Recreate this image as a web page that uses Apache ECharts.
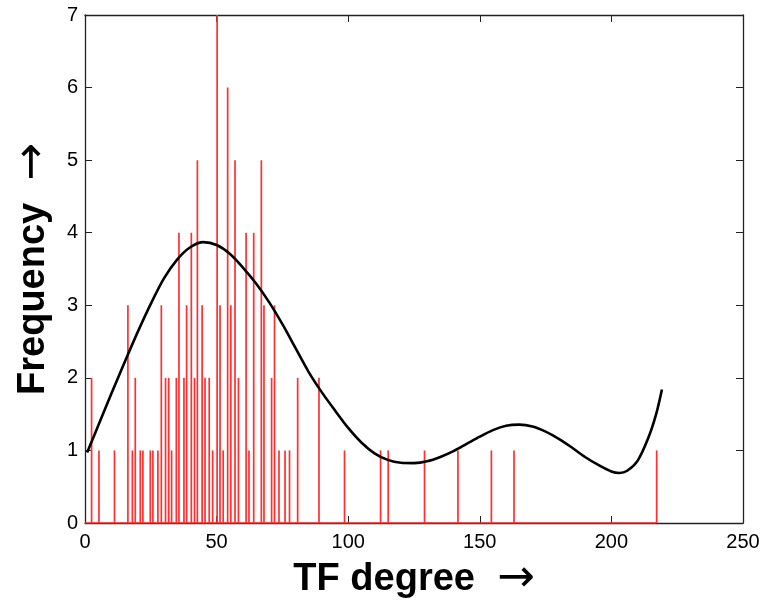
<!DOCTYPE html>
<html>
<head>
<meta charset="utf-8">
<script src="https://cdn.jsdelivr.net/npm/echarts@6/dist/echarts.min.js"></script>
<style>html,body{margin:0;padding:0;background:#fff;}#c{width:767px;height:602px;}</style>
</head>
<body>
<div id="c"></div>
<script>
// Histogram bins (TF degree) and their frequencies
const binCenters = [2.5, 5.3, 11.2, 16.3, 18.0, 19.1, 21.0, 22.0, 24.8, 25.8, 27.7, 29.0, 30.6, 31.8, 32.9, 34.7, 35.7, 37.6, 38.6, 40.4, 41.6, 42.7, 44.5, 45.6, 47.2, 48.5, 50.2, 51.3, 52.5, 54.2, 55.4, 57.0, 58.3, 61.2, 62.3, 64.1, 67.0, 68.0, 70.9, 72.0, 73.7, 76.0, 77.7, 80.8, 88.9, 98.6, 112.3, 115.2, 129.0, 141.7, 154.4, 163.0, 217.2];
const binCounts = [2, 1, 1, 3, 1, 2, 1, 1, 1, 1, 1, 3, 2, 2, 1, 2, 4, 2, 3, 4, 2, 5, 3, 2, 2, 1, 7, 3, 1, 6, 3, 5, 2, 4, 1, 4, 5, 3, 2, 3, 1, 1, 1, 2, 2, 1, 1, 1, 1, 1, 1, 1, 1];
// Fitted curve
const fitX = [0.8, 5, 10, 15, 20, 25, 30, 35, 40, 45, 50, 55, 60, 65, 70, 75, 80, 85, 90, 95, 100, 105, 110, 115, 120, 125, 130, 135, 140, 145, 150, 155, 160, 165, 170, 175, 180, 185, 190, 195, 200, 203, 206, 210, 214, 217, 219.2];
const fitY = [0.97, 1.34, 1.78, 2.21, 2.63, 3.02, 3.37, 3.63, 3.80, 3.87, 3.83, 3.71, 3.52, 3.30, 3.04, 2.74, 2.41, 2.08, 1.80, 1.55, 1.31, 1.11, 0.96, 0.87, 0.83, 0.825, 0.85, 0.91, 0.99, 1.09, 1.19, 1.28, 1.34, 1.355, 1.33, 1.26, 1.16, 1.04, 0.91, 0.80, 0.71, 0.69, 0.72, 0.86, 1.17, 1.50, 1.84];
const xTicks = [0, 50, 100, 150, 200, 250];
const yTicks = [0, 1, 2, 3, 4, 5, 6, 7];

const xMin = xTicks[0], xMax = xTicks[xTicks.length - 1];
const yMin = yTicks[0], yMax = yTicks[yTicks.length - 1];
const lastBin = Math.max.apply(null, binCenters);

const chart = echarts.init(document.getElementById('c'));
const labelFont = { color: '#000', fontFamily: 'Liberation Sans', fontSize: 20 };
const tickStyle = { show: true, inside: true, length: 7, lineStyle: { color: '#222', width: 1 } };
const lineStyle = { lineStyle: { color: '#222', width: 1.3 } };
const nameRich = {
  b: { fontFamily: 'Liberation Sans', fontWeight: 'bold', fontSize: 38, color: '#000', lineHeight: 44 },
  a: { fontFamily: 'DejaVu Sans', fontWeight: 'normal', fontSize: 45, color: '#000', lineHeight: 44, padding: [0, 0, 0, 22] }
};

chart.setOption({
  animation: false,
  backgroundColor: '#fff',
  grid: { left: 85, right: 24, top: 15, bottom: 79, containLabel: false, outerBoundsMode: 'none' },
  xAxis: [
    {
      type: 'value', min: xMin, max: xMax, interval: 50, position: 'bottom',
      axisLine: Object.assign({ show: true, onZero: false }, lineStyle),
      axisTick: tickStyle, splitLine: { show: false },
      axisLabel: Object.assign({ margin: 9 }, labelFont),
      name: '{b|TF degree}{a|→}', nameLocation: 'middle', nameGap: 32,
      nameTextStyle: { rich: nameRich }
    },
    {
      type: 'value', min: xMin, max: xMax, interval: 50, position: 'top',
      axisLine: Object.assign({ show: true, onZero: false }, lineStyle),
      axisTick: tickStyle, axisLabel: { show: false }, splitLine: { show: false }
    }
  ],
  yAxis: [
    {
      type: 'value', min: yMin, max: yMax, interval: 1, position: 'left',
      axisLine: Object.assign({ show: true, onZero: false }, lineStyle),
      axisTick: tickStyle, splitLine: { show: false },
      axisLabel: Object.assign({ margin: 7 }, labelFont),
      name: '{b|Frequency}{a|→}', nameLocation: 'middle', nameGap: 22, nameRotate: 90,
      nameTextStyle: { rich: nameRich }
    },
    {
      type: 'value', min: yMin, max: yMax, interval: 1, position: 'right',
      axisLine: Object.assign({ show: true, onZero: false }, lineStyle),
      axisTick: tickStyle, axisLabel: { show: false }, splitLine: { show: false }
    }
  ],
  series: [
    {
      type: 'line', xAxisIndex: 0, yAxisIndex: 0, z: 3,
      data: [[xMin, yMin], [lastBin, yMin]],
      symbol: 'none', lineStyle: { color: '#ff2a2a', width: 1.5 }, silent: true
    },
    {
      type: 'bar', xAxisIndex: 0, yAxisIndex: 0, z: 4,
      data: binCenters.map((x, i) => [x, binCounts[i]]),
      barWidth: 1.7, itemStyle: { color: '#ff3030' }, silent: true
    },
    {
      type: 'line', xAxisIndex: 0, yAxisIndex: 0, z: 5,
      data: fitX.map((x, i) => [x, fitY[i]]),
      smooth: 0.3, symbol: 'none', lineStyle: { color: '#000', width: 2.6 }, silent: true
    }
  ]
});
</script>
</body>
</html>
